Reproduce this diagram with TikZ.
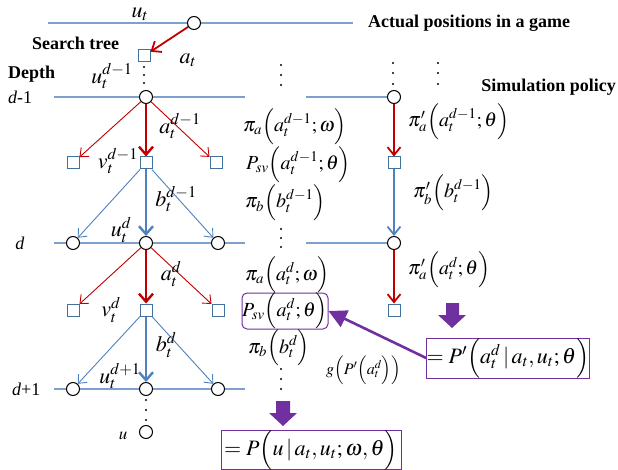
\documentclass[tikz,border=0pt]{standalone}
\usepackage{mathptmx}
\usepackage[no-math]{fontspec}
\setmainfont{Liberation Serif}
\usetikzlibrary{arrows.meta}
\definecolor{tred}{HTML}{C00000}
\definecolor{tblue}{HTML}{4F81BD}
\definecolor{lblue}{HTML}{7F9FCF}
\definecolor{sqc}{HTML}{41719C}
\definecolor{purp}{HTML}{7030A0}
\begin{document}
\begin{tikzpicture}[x=1pt,y=-1pt,
 sq/.style={draw=sqc,line width=1pt,fill=white,minimum size=12pt,inner sep=0pt},
 cir/.style={draw=black,line width=1pt,fill=white,circle,minimum size=13pt,inner sep=0pt},
 hline/.style={draw=lblue,line width=1.3pt},
 thinr/.style={draw=tred,line width=0.9pt,-{Straight Barb[length=7pt,width=12pt]}},
 thickr/.style={draw=tred,line width=2.4pt,-{Straight Barb[length=8pt,width=14pt]}},
 medr/.style={draw=tred,line width=1.8pt,-{Straight Barb[length=8pt,width=13pt]}},
 thinb/.style={draw=tblue,line width=0.9pt,-{Straight Barb[length=7pt,width=12pt]}},
 thickb/.style={draw=tblue,line width=2.4pt,-{Straight Barb[length=8pt,width=14pt]}},
 medb/.style={draw=tblue,line width=1.8pt,-{Straight Barb[length=8pt,width=13pt]}},
 lab/.style={font=\fontsize{22}{24}\selectfont,inner sep=0pt},
 mlab/.style={font=\fontsize{20}{22}\selectfont,inner sep=0pt,anchor=west},
 slab/.style={font=\fontsize{16}{18}\selectfont,inner sep=0pt,anchor=west},
 btxt/.style={font=\fontsize{18}{20}\selectfont\bfseries,inner sep=0pt},
 pbox/.style={draw=purp,line width=1pt,inner sep=0pt,font=\fontsize{22}{24}\selectfont},
 vdot/.style={fill=black}
]
\useasboundingbox (0,0) rectangle (618,470);

% horizontal lines
\draw[hline] (48,23) -- (353,23);
\draw[hline] (54,97) -- (245,97);
\draw[hline] (306,97) -- (394,97);
\draw[hline] (54,243) -- (245,243);
\draw[hline] (306,243) -- (394,243);
\draw[hline] (54,389) -- (245,389);

% nodes
\node[cir] (c0) at (194,23) {};
\node[sq] (s0) at (144,56) {};
\node[cir] (c1) at (146,97) {};
\node[sq] (s1l) at (73,163) {};
\node[sq] (s1m) at (146,163) {};
\node[sq] (s1r) at (216,163) {};
\node[cir] (c2l) at (73,243) {};
\node[cir] (c2m) at (146,243) {};
\node[cir] (c2r) at (218,243) {};
\node[sq] (s2l) at (73,310) {};
\node[sq] (s2m) at (146,310) {};
\node[sq] (s2r) at (218,310) {};
\node[cir] (c3l) at (73,389) {};
\node[cir] (c3m) at (146,389) {};
\node[cir] (c3r) at (218,389) {};
\node[cir] (cu) at (146,432) {};
\node[cir] (rc1) at (394,97) {};
\node[sq] (rs1) at (394,163) {};
\node[cir] (rc2) at (394,243) {};
\node[sq] (rs2) at (394,310) {};

% connectors
\draw[medr] (c0) -- (s0);
\draw[thinr] (c1) -- (s1l);
\draw[thickr] (c1) -- (s1m);
\draw[thinr] (c1) -- (s1r);
\draw[thinb] (s1m) -- (c2l);
\draw[thickb] (s1m) -- (c2m);
\draw[thinb] (s1m) -- (c2r);
\draw[thinr] (c2m) -- (s2l);
\draw[thickr] (c2m) -- (s2m);
\draw[thinr] (c2m) -- (s2r);
\draw[thinb] (s2m) -- (c3l);
\draw[thickb] (s2m) -- (c3m);
\draw[thinb] (s2m) -- (c3r);
\draw[medr] (rc1) -- (rs1);
\draw[medb] (rs1) -- (rc2);
\draw[medr] (rc2) -- (rs2);

% vertical dots
\foreach \x/\ya/\yb/\yc in {144/67/75/83, 281/65/75/85, 393/63/73/84, 438/63/73/84, 281/229/238/247, 281/369/379/389, 146/400/410/420}{
  \fill[vdot] (\x,\ya) circle (1.1pt);
  \fill[vdot] (\x,\yb) circle (1.1pt);
  \fill[vdot] (\x,\yc) circle (1.1pt);
}

% text labels
\node[btxt,anchor=west] (tact) at (368,23) {Actual positions in a game};
\node[btxt,anchor=west] (tsearch) at (32,43) {Search tree};
\node[btxt,anchor=west] (tdepth) at (8,74) {Depth};
\node[btxt,anchor=east] (tsim) at (616,87) {Simulation policy};
\node[anchor=west,inner sep=0pt,font=\fontsize{18}{20}\selectfont] (dm1) at (8,97) {\textit{d}-1};
\node[anchor=center,inner sep=0pt,font=\fontsize{18}{20}\selectfont] (dd) at (20,243) {\textit{d}};
\node[anchor=west,inner sep=0pt,font=\fontsize{18}{20}\selectfont] (dp1) at (12,389) {\textit{d}+1};

% tree labels
\node[lab] (lut) at (140,14) {$u_t$};
\node[lab] (lat) at (188,60) {$a_t$};
\node[lab] (lutd1) at (112,76) {$u_t^{d-1}$};
\node[lab] (latd1) at (180,126) {$a_t^{d-1}$};
\node[lab] (lvtd1) at (118,161) {$v_t^{d-1}$};
\node[lab] (lbtd1) at (176,199) {$b_t^{d-1}$};
\node[lab] (lutd) at (121,230) {$u_t^{d}$};
\node[lab] (latd) at (171,274) {$a_t^{d}$};
\node[lab] (lvtd) at (111,310) {$v_t^{d}$};
\node[lab] (lbtd) at (166,345) {$b_t^{d}$};
\node[lab] (lutdp1) at (120,376) {$u_t^{d+1}$};
\node[inner sep=0pt,font=\fontsize{17}{19}\selectfont] (lu) at (123,436) {$u$};

% middle column
\node[mlab] (m1) at (243,127) {$\pi_a\Bigl(a_t^{d-1};\omega\Bigr)$};
\node[mlab] (m2) at (246,165) {$P_{sv}\Bigl(a_t^{d-1};\theta\Bigr)$};
\node[mlab] (m3) at (245,203) {$\pi_b\Bigl(b_t^{d-1}\Bigr)$};
\node[mlab] (m4) at (245,275) {$\pi_a\Bigl(a_t^{d};\omega\Bigr)$};
\node[pbox,rounded corners=5pt,minimum width=86pt,minimum height=36pt,font=\fontsize{20}{22}\selectfont] (psv) at (285,311) {$P_{sv}\Bigl(a_t^{d};\theta\Bigr)$};
\node[mlab] (m6) at (248,348) {$\pi_b\Bigl(b_t^{d}\Bigr)$};
\node[slab] (g) at (326,370) {$g\Bigl(P'\Bigl(a_t^{d}\Bigr)\Bigr)$};

% right column
\node[mlab] (r1) at (408,122) {$\pi'_a\Bigl(a_t^{d-1};\theta\Bigr)$};
\node[mlab] (r2) at (413,193) {$\pi'_b\Bigl(b_t^{d-1}\Bigr)$};
\node[mlab] (r3) at (408,270) {$\pi'_a\Bigl(a_t^{d};\theta\Bigr)$};

% result boxes
\node[pbox,minimum width=160pt,minimum height=40pt] (pp) at (508,358) {$=P'\Bigl(a_t^d\,|\,a_t,u_t;\theta\Bigr)$};
\node[pbox,minimum width=180pt,minimum height=38pt] (pfin) at (311,450) {$=P\Bigl(u\,|\,a_t,u_t;\omega,\theta\Bigr)$};

% purple arrows
\fill[purp] (276,401) -- (290,401) -- (290,413) -- (297,413) -- (283,426) -- (269,413) -- (276,413) -- cycle;
\fill[purp] (446,303) -- (459,303) -- (459,315) -- (466,315) -- (452,328) -- (438,315) -- (446,315) -- cycle;
\draw[purp,line width=2.6pt,-{Triangle[length=18pt,width=18pt]}] (pp.west) -- (psv.east);
\end{tikzpicture}
\end{document}
